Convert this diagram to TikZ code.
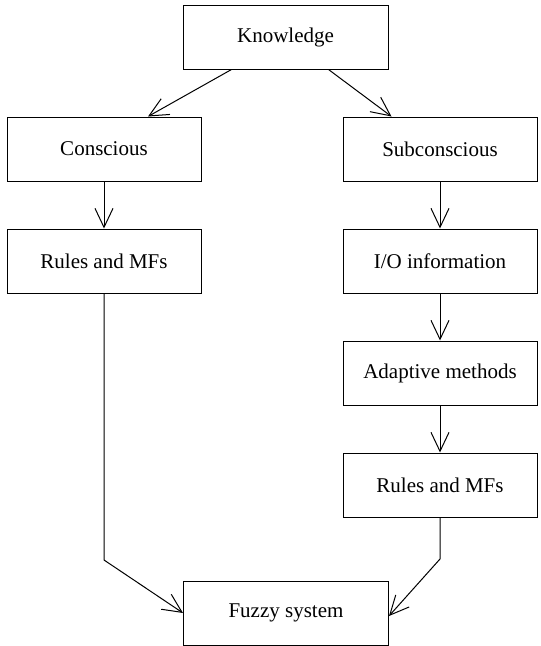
\documentclass[tikz,border=0pt]{standalone}
\usepackage{fontspec}
\setmainfont{Liberation Serif}
\usetikzlibrary{arrows.meta,calc}
\begin{document}
\begin{tikzpicture}[x=1pt,y=-1pt,
  box/.style={draw,line width=1pt,inner sep=0pt,minimum width=194pt,minimum height=64pt,
    font=\fontsize{21}{25}\selectfont},
  wide/.style={box,minimum width=205pt},
  arr/.style={line width=1pt,-{Straight Barb[length=19pt,width=18pt]}}]
\useasboundingbox (0,0) rectangle (541,646);
\node[wide] (K) at (285.5,37) {Knowledge};
\node[box] (C) at (104,149) {Conscious};
\node[box] (S) at (440,149) {Subconscious};
\node[box] (RL) at (104,261) {Rules and MFs};
\node[box] (IO) at (440,261) {I/O information};
\node[box] (AM) at (440,373) {Adaptive methods};
\node[box] (RR) at (440,485) {Rules and MFs};
\node[wide] (F) at (286,613) {Fuzzy system};
\coordinate (bl) at (104,560);
\coordinate (br) at (440,559);
\draw[arr] ($(K.south west)+(49,0)$) -- ($(C.north)+(44,0)$);
\draw[arr] ($(K.south east)+(-60,0)$) -- ($(S.north west)+(49,0)$);
\draw[arr] (C) -- (RL);
\draw[arr] (S) -- (IO);
\draw[arr] (IO) -- (AM);
\draw[arr] (AM) -- (RR);
\draw[arr] (RL.south) -- (bl) -- (F.west);
\draw[arr] (RR.south) -- (br) -- ($(F.east)+(0,3)$);
\end{tikzpicture}
\end{document}
